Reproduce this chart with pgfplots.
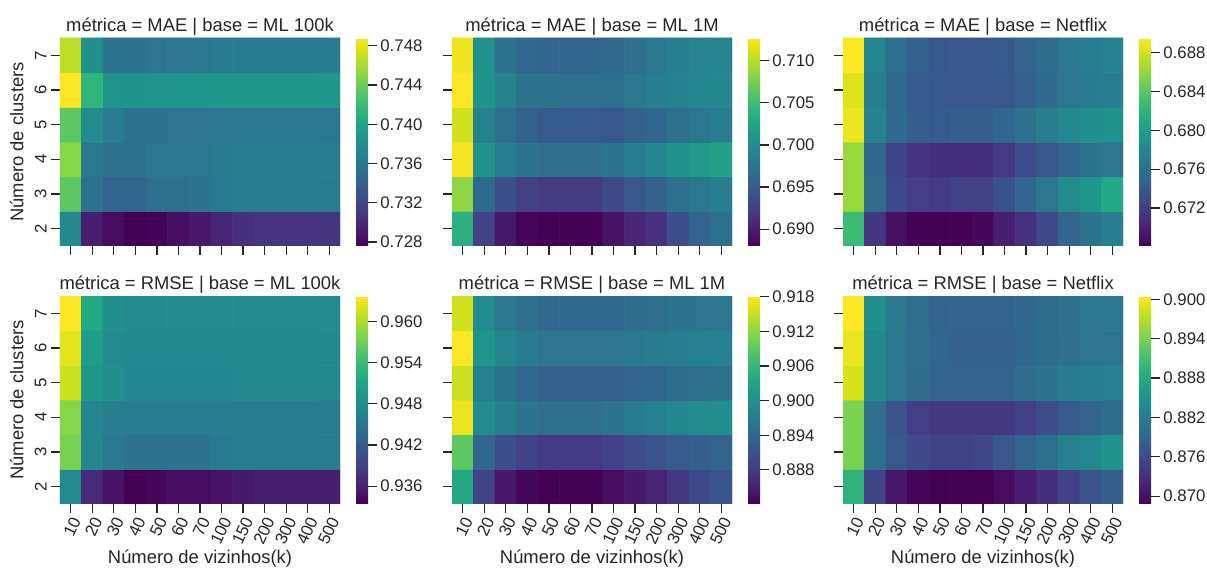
\documentclass[border=0pt]{standalone}
\usepackage{fontspec}
\setmainfont{Liberation Sans}
\usepackage{pgfplots}
\pgfplotsset{compat=1.18}
\definecolor{ink}{HTML}{262626}

\pgfplotsset{
  heat/.style={
    width=140pt, height=104pt, scale only axis,
    anchor=south west,
    colormap/viridis,
    colorbar,
    colorbar shift/.style={xshift=8pt},
    xmin=-0.5, xmax=12.5, ymin=1.5, ymax=7.5,
    xtick={0,...,12},
    xticklabels={10,20,30,40,50,60,70,100,150,200,300,400,500},
    ytick={2,...,7},
    axis line style={draw=none},
    tick pos=left,
    tick align=outside,
    major tick length=4.5pt,
    tick style={ink, line width=0.6pt},
    /pgf/number format/assume math mode=true,
    tick label style={font=\fontsize{8.4}{10}\selectfont, text=ink},
    xticklabel style={rotate=65, anchor=east, inner sep=1pt, yshift=-3.5pt},
    yticklabel style={rotate=90, anchor=south, inner sep=2pt},
    label style={font=\fontsize{9.2}{11}\selectfont, text=ink},
    xlabel style={yshift=3pt},
    title style={font=\fontsize{9.2}{11}\selectfont, text=ink, yshift=-8pt},
    colorbar style={
      at={(parent axis.north east)}, anchor=north west,
      width=6pt,
      axis line style={draw=none},
      ytick pos=right,
      tick align=outside,
      major tick length=4.5pt,
      tick style={ink, line width=0.6pt},
      scaled y ticks=false,
      yticklabel style={font=\fontsize{8.4}{10}\selectfont, text=ink, inner sep=1.5pt,
        /pgf/number format/.cd, fixed, fixed zerofill, precision=3, assume math mode=true},
    },
  },
  notop/.style={xticklabels={}},
  noleft/.style={yticklabels={}},
}

\begin{document}
\begin{tikzpicture}
\path[use as bounding box] (0,0) rectangle (603.5pt,285.5pt);

% MAE, ML 100k
\begin{axis}[heat, notop, at={(30pt,162.5pt)},
  title={métrica = MAE | base = ML 100k},
  ylabel={Número de clusters},
  colorbar style={ytick={0.728,0.732,0.736,0.740,0.744,0.748}}]
\addplot[matrix plot*, mesh/cols=13, point meta=explicit] coordinates {
(0,2)[0.7376] (1,2)[0.7293] (2,2)[0.7282] (3,2)[0.7276] (4,2)[0.7277] (5,2)[0.7284] (6,2)[0.7290] (7,2)[0.7297] (8,2)[0.7304] (9,2)[0.7308] (10,2)[0.7308] (11,2)[0.7308] (12,2)[0.7309]
(0,3)[0.7435] (1,3)[0.7355] (2,3)[0.7344] (3,3)[0.7344] (4,3)[0.7352] (5,3)[0.7353] (6,3)[0.7356] (7,3)[0.7362] (8,3)[0.7365] (9,3)[0.7365] (10,3)[0.7365] (11,3)[0.7365] (12,3)[0.7365]
(0,4)[0.7450] (1,4)[0.7361] (2,4)[0.7355] (3,4)[0.7354] (4,4)[0.7360] (5,4)[0.7360] (6,4)[0.7360] (7,4)[0.7364] (8,4)[0.7365] (9,4)[0.7365] (10,4)[0.7365] (11,4)[0.7365] (12,4)[0.7365]
(0,5)[0.7435] (1,5)[0.7378] (2,5)[0.7365] (3,5)[0.7357] (4,5)[0.7357] (5,5)[0.7358] (6,5)[0.7359] (7,5)[0.7360] (8,5)[0.7361] (9,5)[0.7361] (10,5)[0.7361] (11,5)[0.7361] (12,5)[0.7361]
(0,6)[0.7488] (1,6)[0.7414] (2,6)[0.7386] (3,6)[0.7385] (4,6)[0.7386] (5,6)[0.7387] (6,6)[0.7387] (7,6)[0.7388] (8,6)[0.7388] (9,6)[0.7388] (10,6)[0.7388] (11,6)[0.7388] (12,6)[0.7388]
(0,7)[0.7467] (1,7)[0.7382] (2,7)[0.7357] (3,7)[0.7355] (4,7)[0.7359] (5,7)[0.7359] (6,7)[0.7360] (7,7)[0.7363] (8,7)[0.7363] (9,7)[0.7363] (10,7)[0.7363] (11,7)[0.7363] (12,7)[0.7363]
};
\end{axis}

% MAE, ML 1M
\begin{axis}[heat, notop, noleft, at={(226pt,162.5pt)},
  title={métrica = MAE | base = ML 1M},
  colorbar style={ytick={0.690,0.695,0.700,0.705,0.710}}]
\addplot[matrix plot*, mesh/cols=13, point meta=explicit] coordinates {
(0,2)[0.7036] (1,2)[0.6929] (2,2)[0.6897] (3,2)[0.6882] (4,2)[0.6880] (5,2)[0.6880] (6,2)[0.6880] (7,2)[0.6892] (8,2)[0.6905] (9,2)[0.6915] (10,2)[0.6939] (11,2)[0.6959] (12,2)[0.6971]
(0,3)[0.7085] (1,3)[0.6964] (2,3)[0.6939] (3,3)[0.6927] (4,3)[0.6922] (5,3)[0.6922] (6,3)[0.6922] (7,3)[0.6934] (8,3)[0.6947] (9,3)[0.6957] (10,3)[0.6969] (11,3)[0.6979] (12,3)[0.6986]
(0,4)[0.7125] (1,4)[0.7008] (2,4)[0.6984] (3,4)[0.6974] (4,4)[0.6969] (5,4)[0.6969] (6,4)[0.6969] (7,4)[0.6974] (8,4)[0.6984] (9,4)[0.6994] (10,4)[0.7004] (11,4)[0.7013] (12,4)[0.7021]
(0,5)[0.7110] (1,5)[0.6989] (2,5)[0.6969] (3,5)[0.6957] (4,5)[0.6949] (5,5)[0.6949] (6,5)[0.6949] (7,5)[0.6947] (8,5)[0.6957] (9,5)[0.6962] (10,5)[0.6971] (11,5)[0.6979] (12,5)[0.6984]
(0,6)[0.7127] (1,6)[0.7008] (2,6)[0.6989] (3,6)[0.6974] (4,6)[0.6974] (5,6)[0.6969] (6,6)[0.6969] (7,6)[0.6971] (8,6)[0.6979] (9,6)[0.6984] (10,6)[0.6989] (11,6)[0.6994] (12,6)[0.6994]
(0,7)[0.7122] (1,7)[0.7004] (2,7)[0.6974] (3,7)[0.6964] (4,7)[0.6962] (5,7)[0.6962] (6,7)[0.6962] (7,7)[0.6964] (8,7)[0.6969] (9,7)[0.6979] (10,7)[0.6986] (11,7)[0.6991] (12,7)[0.6991]
};
\end{axis}

% MAE, Netflix
\begin{axis}[heat, notop, noleft, at={(421.5pt,162.5pt)},
  title={métrica = MAE | base = Netflix},
  colorbar style={ytick={0.672,0.676,0.680,0.684,0.688}}]
\addplot[matrix plot*, mesh/cols=13, point meta=explicit] coordinates {
(0,2)[0.6827] (1,2)[0.6715] (2,2)[0.6690] (3,2)[0.6681] (4,2)[0.6681] (5,2)[0.6681] (6,2)[0.6685] (7,2)[0.6698] (8,2)[0.6711] (9,2)[0.6728] (10,2)[0.6749] (11,2)[0.6762] (12,2)[0.6773]
(0,3)[0.6863] (1,3)[0.6756] (2,3)[0.6728] (3,3)[0.6720] (4,3)[0.6717] (5,3)[0.6722] (6,3)[0.6722] (7,3)[0.6735] (8,3)[0.6752] (9,3)[0.6764] (10,3)[0.6784] (11,3)[0.6794] (12,3)[0.6809]
(0,4)[0.6863] (1,4)[0.6752] (2,4)[0.6724] (3,4)[0.6713] (4,4)[0.6709] (5,4)[0.6709] (6,4)[0.6709] (7,4)[0.6717] (8,4)[0.6730] (9,4)[0.6739] (10,4)[0.6752] (11,4)[0.6760] (12,4)[0.6764]
(0,5)[0.6889] (1,5)[0.6775] (2,5)[0.6754] (3,5)[0.6745] (4,5)[0.6741] (5,5)[0.6745] (6,5)[0.6745] (7,5)[0.6752] (8,5)[0.6760] (9,5)[0.6771] (10,5)[0.6782] (11,5)[0.6786] (12,5)[0.6790]
(0,6)[0.6884] (1,6)[0.6771] (2,6)[0.6754] (3,6)[0.6743] (4,6)[0.6739] (5,6)[0.6739] (6,6)[0.6739] (7,6)[0.6739] (8,6)[0.6747] (9,6)[0.6754] (10,6)[0.6764] (11,6)[0.6769] (12,6)[0.6771]
(0,7)[0.6895] (1,7)[0.6779] (2,7)[0.6758] (3,7)[0.6747] (4,7)[0.6739] (5,7)[0.6739] (6,7)[0.6739] (7,7)[0.6741] (8,7)[0.6749] (9,7)[0.6756] (10,7)[0.6767] (11,7)[0.6771] (12,7)[0.6775]
};
\end{axis}

% RMSE, ML 100k
\begin{axis}[heat, at={(30pt,33.5pt)},
  title={métrica = RMSE | base = ML 100k},
  ylabel={Número de clusters}, xlabel={Número de vizinhos(k)},
  colorbar style={ytick={0.936,0.942,0.948,0.954,0.960}}]
\addplot[matrix plot*, mesh/cols=13, point meta=explicit] coordinates {
(0,2)[0.9479] (1,2)[0.9370] (2,2)[0.9349] (3,2)[0.9334] (4,2)[0.9337] (5,2)[0.9343] (6,2)[0.9343] (7,2)[0.9349] (8,2)[0.9355] (9,2)[0.9358] (10,2)[0.9358] (11,2)[0.9358] (12,2)[0.9358]
(0,3)[0.9576] (1,3)[0.9473] (2,3)[0.9458] (3,3)[0.9449] (4,3)[0.9449] (5,3)[0.9449] (6,3)[0.9449] (7,3)[0.9458] (8,3)[0.9461] (9,3)[0.9461] (10,3)[0.9461] (11,3)[0.9461] (12,3)[0.9461]
(0,4)[0.9582] (1,4)[0.9470] (2,4)[0.9461] (3,4)[0.9461] (4,4)[0.9461] (5,4)[0.9461] (6,4)[0.9461] (7,4)[0.9461] (8,4)[0.9461] (9,4)[0.9461] (10,4)[0.9461] (11,4)[0.9461] (12,4)[0.9461]
(0,5)[0.9613] (1,5)[0.9495] (2,5)[0.9486] (3,5)[0.9473] (4,5)[0.9473] (5,5)[0.9473] (6,5)[0.9473] (7,5)[0.9473] (8,5)[0.9476] (9,5)[0.9476] (10,5)[0.9476] (11,5)[0.9476] (12,5)[0.9476]
(0,6)[0.9625] (1,6)[0.9501] (2,6)[0.9479] (3,6)[0.9476] (4,6)[0.9476] (5,6)[0.9476] (6,6)[0.9476] (7,6)[0.9476] (8,6)[0.9476] (9,6)[0.9476] (10,6)[0.9476] (11,6)[0.9476] (12,6)[0.9476]
(0,7)[0.9637] (1,7)[0.9516] (2,7)[0.9486] (3,7)[0.9479] (4,7)[0.9479] (5,7)[0.9479] (6,7)[0.9479] (7,7)[0.9479] (8,7)[0.9479] (9,7)[0.9479] (10,7)[0.9479] (11,7)[0.9479] (12,7)[0.9479]
};
\end{axis}

% RMSE, ML 1M
\begin{axis}[heat, noleft, at={(226pt,33.5pt)},
  title={métrica = RMSE | base = ML 1M},
  xlabel={Número de vizinhos(k)},
  colorbar style={ytick={0.888,0.894,0.900,0.906,0.912,0.918}}]
\addplot[matrix plot*, mesh/cols=13, point meta=explicit] coordinates {
(0,2)[0.9037] (1,2)[0.8893] (2,2)[0.8843] (3,2)[0.8828] (4,2)[0.8821] (5,2)[0.8821] (6,2)[0.8821] (7,2)[0.8832] (8,2)[0.8846] (9,2)[0.8857] (10,2)[0.8879] (11,2)[0.8900] (12,2)[0.8915]
(0,3)[0.9091] (1,3)[0.8940] (2,3)[0.8907] (3,3)[0.8893] (4,3)[0.8882] (5,3)[0.8882] (6,3)[0.8882] (7,3)[0.8889] (8,3)[0.8904] (9,3)[0.8911] (10,3)[0.8922] (11,3)[0.8929] (12,3)[0.8936]
(0,4)[0.9170] (1,4)[0.8994] (2,4)[0.8976] (3,4)[0.8958] (4,4)[0.8951] (5,4)[0.8951] (6,4)[0.8951] (7,4)[0.8958] (8,4)[0.8969] (9,4)[0.8979] (10,4)[0.8987] (11,4)[0.8994] (12,4)[0.8997]
(0,5)[0.9152] (1,5)[0.8979] (2,5)[0.8958] (3,5)[0.8943] (4,5)[0.8933] (5,5)[0.8933] (6,5)[0.8933] (7,5)[0.8933] (8,5)[0.8936] (9,5)[0.8940] (10,5)[0.8947] (11,5)[0.8951] (12,5)[0.8954]
(0,6)[0.9181] (1,6)[0.9008] (2,6)[0.8983] (3,6)[0.8969] (4,6)[0.8961] (5,6)[0.8961] (6,6)[0.8961] (7,6)[0.8961] (8,6)[0.8965] (9,6)[0.8969] (10,6)[0.8972] (11,6)[0.8979] (12,6)[0.8979]
(0,7)[0.9156] (1,7)[0.8994] (2,7)[0.8965] (3,7)[0.8951] (4,7)[0.8943] (5,7)[0.8943] (6,7)[0.8943] (7,7)[0.8943] (8,7)[0.8947] (9,7)[0.8951] (10,7)[0.8958] (11,7)[0.8961] (12,7)[0.8961]
};
\end{axis}

% RMSE, Netflix
\begin{axis}[heat, noleft, at={(421.5pt,33.5pt)},
  title={métrica = RMSE | base = Netflix},
  xlabel={Número de vizinhos(k)},
  colorbar style={ytick={0.870,0.876,0.882,0.888,0.894,0.900}}]
\addplot[matrix plot*, mesh/cols=13, point meta=explicit] coordinates {
(0,2)[0.8894] (1,2)[0.8751] (2,2)[0.8707] (3,2)[0.8694] (4,2)[0.8688] (5,2)[0.8688] (6,2)[0.8688] (7,2)[0.8698] (8,2)[0.8713] (9,2)[0.8729] (10,2)[0.8748] (11,2)[0.8770] (12,2)[0.8783]
(0,3)[0.8942] (1,3)[0.8805] (2,3)[0.8774] (3,3)[0.8758] (4,3)[0.8751] (5,3)[0.8751] (6,3)[0.8755] (7,3)[0.8774] (8,3)[0.8789] (9,3)[0.8802] (10,3)[0.8827] (11,3)[0.8837] (12,3)[0.8850]
(0,4)[0.8942] (1,4)[0.8802] (2,4)[0.8767] (3,4)[0.8745] (4,4)[0.8739] (5,4)[0.8739] (6,4)[0.8739] (7,4)[0.8739] (8,4)[0.8748] (9,4)[0.8761] (10,4)[0.8777] (11,4)[0.8789] (12,4)[0.8799]
(0,5)[0.8986] (1,5)[0.8834] (2,5)[0.8812] (3,5)[0.8799] (4,5)[0.8789] (5,5)[0.8789] (6,5)[0.8789] (7,5)[0.8789] (8,5)[0.8799] (9,5)[0.8808] (10,5)[0.8818] (11,5)[0.8824] (12,5)[0.8827]
(0,6)[0.8995] (1,6)[0.8834] (2,6)[0.8812] (3,6)[0.8802] (4,6)[0.8793] (5,6)[0.8786] (6,6)[0.8786] (7,6)[0.8786] (8,6)[0.8793] (9,6)[0.8799] (10,6)[0.8805] (11,6)[0.8812] (12,6)[0.8812]
(0,7)[0.9005] (1,7)[0.8847] (2,7)[0.8815] (3,7)[0.8802] (4,7)[0.8789] (5,7)[0.8789] (6,7)[0.8789] (7,7)[0.8789] (8,7)[0.8793] (9,7)[0.8799] (10,7)[0.8805] (11,7)[0.8812] (12,7)[0.8815]
};
\end{axis}
\end{tikzpicture}
\end{document}
